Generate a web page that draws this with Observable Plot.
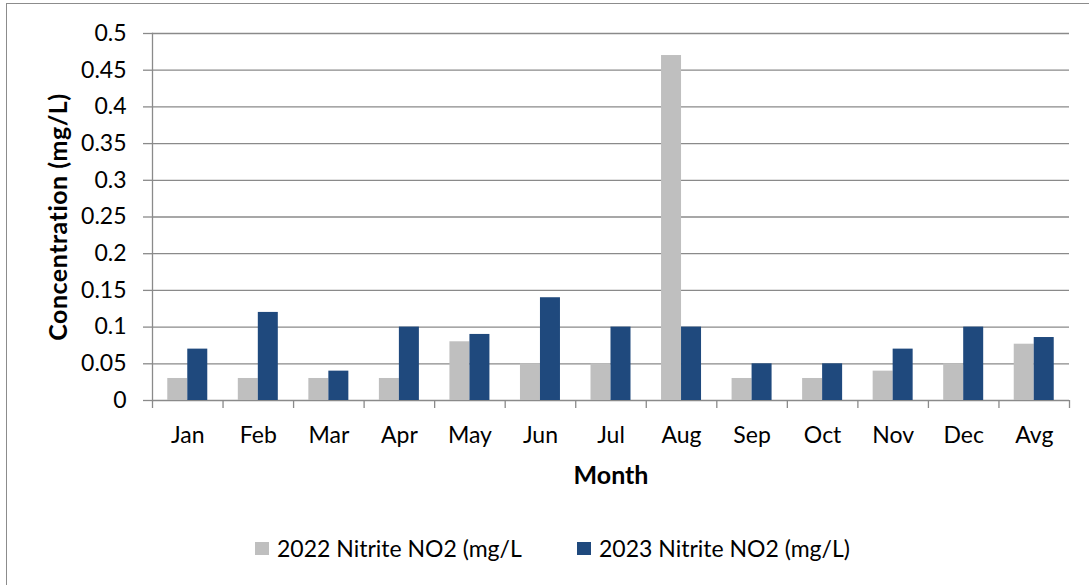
<!DOCTYPE html>
<html>
<head>
<meta charset="utf-8">
<script src="https://cdn.jsdelivr.net/npm/d3@7"></script>
<script src="https://cdn.jsdelivr.net/npm/@observablehq/plot@0.6"></script>
<style>
  html, body { margin: 0; padding: 0; background: #fff; }
  body { width: 1089px; height: 585px; position: relative; overflow: hidden; font-family: Lato, "Noto Sans", sans-serif; }
  #frame { position: absolute; left: 6px; top: 3px; width: 1200px; height: 700px; border-left: 1px solid #8c8c8c; border-top: 1px solid #8c8c8c; box-sizing: border-box; }
  #chart { position: absolute; left: 0; top: 0; }
  #legend { position: absolute; left: 255px; top: 534px; height: 28px; display: flex; align-items: center; font-size: 23px; color: #000; }
  .item { display: flex; align-items: center; }
  .sw { width: 14px; height: 13px; margin-right: 8px; }
  .ytitle text { letter-spacing: 0.5px; }
</style>
</head>
<body>
<div id="frame"></div>
<div id="chart"></div>
<div id="legend"></div>
<script>
const months = ["Jan","Feb","Mar","Apr","May","Jun","Jul","Aug","Sep","Oct","Nov","Dec","Avg"];
const series = ["2022 Nitrite NO2 (mg/L", "2023 Nitrite NO2 (mg/L)"];
const colors = ["#BFBFBF", "#1F497D"];
const values2022 = [0.03, 0.03, 0.03, 0.03, 0.08, 0.05, 0.05, 0.47, 0.03, 0.03, 0.04, 0.05, 0.0767];
const values2023 = [0.07, 0.12, 0.04, 0.10, 0.09, 0.14, 0.10, 0.10, 0.05, 0.05, 0.07, 0.10, 0.0858];
const yTicks = [0, 0.05, 0.1, 0.15, 0.2, 0.25, 0.3, 0.35, 0.4, 0.45, 0.5];
const xTitle = "Month";
const yTitle = "Concentration (mg/L)";

const W = 1089, H = 520;
const mL = 152, mR = 20, mT = 33, mB = H - 400;
const step = (W - mL - mR) / months.length;
const barW = 20;
const outer = (step - 2 * barW) / 2;

const d22 = months.map((m, i) => ({month: m, value: values2022[i]}));
const d23 = months.map((m, i) => ({month: m, value: values2023[i]}));

const gridColor = "#8a8a8a";

const chart = Plot.plot({
  width: W,
  height: H,
  marginLeft: mL,
  marginRight: mR,
  marginTop: mT,
  marginBottom: mB,
  style: {fontFamily: "Lato, 'Noto Sans', sans-serif", fontSize: "23px", color: "#000", background: "transparent"},
  x: {type: "band", domain: months, padding: 0, round: false, axis: null},
  y: {domain: [0, 0.5], axis: null},
  marks: [
    Plot.ruleY(yTicks, {stroke: gridColor, strokeWidth: 1.3}),
    Plot.barY(d22, {x: "month", y: "value", fill: colors[0], insetLeft: outer, insetRight: outer + barW}),
    Plot.barY(d23, {x: "month", y: "value", fill: colors[1], insetLeft: outer + barW, insetRight: outer}),
    Plot.frame({anchor: "left", stroke: gridColor, strokeWidth: 1.3}),
    Plot.axisY({ticks: yTicks, tickSize: 9, tickPadding: 17, tickFormat: d3.format("~g"), stroke: gridColor, strokeWidth: 1.3, strokeOpacity: 1, fontSize: 23, fill: "#000", label: null}),
    Plot.axisX({tickSize: 8, text: null, dx: -step / 2, stroke: gridColor, strokeWidth: 1.3, strokeOpacity: 1, label: null}),
    Plot.axisX(months.slice(-1), {tickSize: 8, text: null, dx: step / 2, stroke: gridColor, strokeWidth: 1.3, strokeOpacity: 1, label: null}),
    Plot.axisX({tickSize: 0, tickPadding: 26, fontSize: 23, fill: "#000", label: null}),
    Plot.text([xTitle], {frameAnchor: "bottom", dy: 75, lineAnchor: "middle", textAnchor: "middle", fontWeight: "bold", fontSize: 25, fill: "#000"}),
    Plot.text([yTitle], {frameAnchor: "left", dx: -94, rotate: -90, lineAnchor: "middle", textAnchor: "middle", fontWeight: "bold", fontSize: 25, fill: "#000", className: "ytitle"})
  ]
});
document.getElementById("chart").appendChild(chart);

const legend = document.getElementById("legend");
series.forEach((s, i) => {
  const item = document.createElement("div");
  item.className = "item";
  if (i === 0) item.style.width = "322px";
  const sw = document.createElement("span");
  sw.className = "sw";
  sw.style.background = colors[i];
  const t = document.createElement("span");
  t.textContent = s;
  item.appendChild(sw);
  item.appendChild(t);
  legend.appendChild(item);
});
</script>
</body>
</html>
